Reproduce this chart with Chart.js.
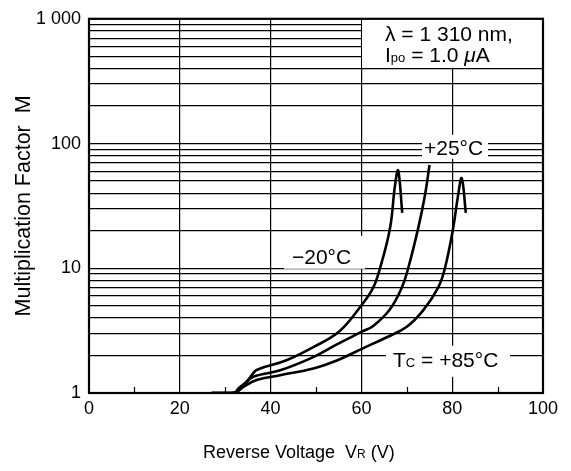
<!DOCTYPE html>
<html>
<head>
<meta charset="utf-8">
<script src="https://cdn.jsdelivr.net/npm/chart.js@4.4.1/dist/chart.umd.min.js"></script>
<style>
  html, body { margin: 0; padding: 0; background: #fff; }
  #wrap { width: 571px; height: 471px; position: relative; }
</style>
</head>
<body>
<div id="wrap"><canvas id="chart"></canvas></div>
<script>
const FONT = '"Liberation Sans", Arial, Helvetica, sans-serif'

// Tc = -20 °C
const voltsCold = [27, 31, 32.2, 32.9, 34.7, 36.6, 37.7, 43.5, 49.4, 55.3, 60.1, 62.6, 64.1, 66.3, 67.4, 68.1, 69.0]
const gainCold = [1, 1, 1.01, 1.09, 1.23, 1.5, 1.57, 1.83, 2.33, 3.16, 5.1, 7.0, 10, 20.9, 46.2, 60.7, 27.8]

// Tc = +25 °C
const voltsRoom = [27, 31, 32.5, 34.0, 36.2, 42.1, 49.4, 54.6, 60.1, 62.6, 66.3, 68.9, 70.3, 72.5, 74.0, 75.0]
const gainRoom = [1, 1, 1.02, 1.16, 1.35, 1.52, 1.94, 2.45, 3.1, 3.45, 4.7, 7.0, 10, 20.9, 38.5, 67.3]

// Tc = +85 °C
const voltsHot = [27, 31, 32.5, 34.0, 36.9, 42.1, 49.4, 55.0, 60.1, 65.6, 70.0, 73.6, 76.9, 78.4, 80.2, 81.3, 82.1, 83.0]
const gainHot = [1, 1, 1.02, 1.12, 1.27, 1.39, 1.57, 1.85, 2.26, 2.8, 3.4, 4.6, 7.0, 10, 20.9, 38.5, 52.7, 27.8]

const xTickStep = 20
const xMinorTicks = [10, 30, 50, 70, 90]
const yLabelValues = [1, 10, 100, 1000]
const yLabelTexts = ['1', '10', '100', '1 000']

const yGridValues = []
for (const decade of [1, 10, 100]) {
  for (let k = 1; k < 10; k++) yGridValues.push(decade * k)
}
yGridValues.push(1000)

const toPoints = (xs, ys) => xs.map((v, i) => ({x: v, y: ys[i]}))

function drawRuns(ctx, x, y, runs) {
  for (const r of runs) {
    ctx.font = (r.italic ? 'italic ' : '') + r.size + 'px ' + FONT
    ctx.fillText(r.text, x, y)
    x += ctx.measureText(r.text).width
  }
}

const decorations = {
  id: 'decorations',
  beforeDatasetsDraw(chart) {
    const {ctx, scales: {x, y}, chartArea: a} = chart
    const L = a.left, T = a.top
    ctx.save()
    ctx.fillStyle = '#fff'
    // conditions box (top right)
    const x60 = x.getPixelForValue(60)
    const y400 = y.getPixelForValue(400)
    ctx.fillRect(x60 + 0.7, T, a.right - x60 - 0.7, y400 - T - 0.7)
    // label backgrounds
    ctx.fillRect(L + 333, T + 116, 66, 24)   // +25°C
    ctx.fillRect(L + 195, T + 217, 81, 33)   // -20°C
    ctx.fillRect(L + 297, T + 327, 124, 31)  // Tc = +85°C

    ctx.fillStyle = '#000'
    ctx.textAlign = 'left'
    ctx.textBaseline = 'alphabetic'
    drawRuns(ctx, L + 296, T + 22, [{text: 'λ = 1 310 nm,', size: 21}])
    drawRuns(ctx, L + 296, T + 43, [
      {text: 'I', size: 21}, {text: 'po', size: 13}, {text: ' = 1.0 ', size: 21},
      {text: 'μ', size: 21, italic: true}, {text: 'A', size: 21}
    ])
    drawRuns(ctx, L + 335, T + 136.5, [{text: '+25°C', size: 21}])
    drawRuns(ctx, L + 203, T + 245, [{text: '−20°C', size: 21}])
    drawRuns(ctx, L + 304, T + 348, [
      {text: 'T', size: 21}, {text: 'C', size: 13}, {text: ' = +85°C', size: 21}
    ])
    ctx.restore()
  },
  afterDraw(chart) {
    const {ctx, scales: {x}, chartArea: a} = chart
    ctx.save()
    ctx.strokeStyle = '#000'
    ctx.lineWidth = 1.2
    ctx.beginPath()
    for (const v of xMinorTicks) {
      const px = Math.round(x.getPixelForValue(v)) + 0.5
      ctx.moveTo(px, a.bottom)
      ctx.lineTo(px, a.bottom - 6)
    }
    ctx.stroke()
    ctx.lineWidth = 2.2
    ctx.strokeRect(a.left, a.top, a.width, a.height)

    ctx.fillStyle = '#000'
    ctx.textAlign = 'left'
    ctx.textBaseline = 'alphabetic'
    drawRuns(ctx, 203, a.bottom + 65, [
      {text: 'Reverse Voltage  V', size: 18}, {text: 'R', size: 12}, {text: ' (V)', size: 18}
    ])
    ctx.restore()
  }
}

const line = (label, xs, ys) => ({
  label,
  data: toPoints(xs, ys),
  borderColor: '#000',
  borderWidth: 2.6,
  pointRadius: 0,
  fill: false,
  tension: 0.4
})

new Chart(document.getElementById('chart'), {
  type: 'line',
  data: {
    datasets: [
      line('-20°C', voltsCold, gainCold),
      line('+25°C', voltsRoom, gainRoom),
      line('+85°C', voltsHot, gainHot)
    ]
  },
  options: {
    responsive: true,
    maintainAspectRatio: false,
    animation: false,
    layout: { padding: { top: 15, right: 28, bottom: 0, left: 0 } },
    plugins: {
      legend: { display: false },
      tooltip: { enabled: false }
    },
    scales: {
      x: {
        type: 'linear',
        min: 0,
        max: 100,
        afterFit(s) { s.height = 78 },
        border: { display: false },
        grid: { color: '#000', lineWidth: 1.2, drawTicks: false },
        ticks: {
          stepSize: xTickStep,
          padding: 5,
          autoSkip: false,
          maxRotation: 0,
          color: '#000',
          font: { family: FONT, size: 18 }
        }
      },
      y: {
        type: 'logarithmic',
        min: 1,
        max: 1000,
        afterFit(s) { s.width = 89 },
        afterBuildTicks(s) { s.ticks = yGridValues.map(v => ({value: v})) },
        border: { display: false },
        grid: { color: '#000', lineWidth: 1.2, drawTicks: false },
        ticks: {
          padding: 8,
          autoSkip: false,
          color: '#000',
          font: { family: FONT, size: 18 },
          callback(v) {
            const i = yLabelValues.indexOf(v)
            return i >= 0 ? yLabelTexts[i] : ''
          }
        },
        title: {
          display: true,
          text: 'Multiplication Factor  M',
          color: '#000',
          font: { family: FONT, size: 21.5 },
          padding: { top: 11, bottom: 0 }
        }
      }
    }
  },
  plugins: [decorations]
})
</script>
</body>
</html>
